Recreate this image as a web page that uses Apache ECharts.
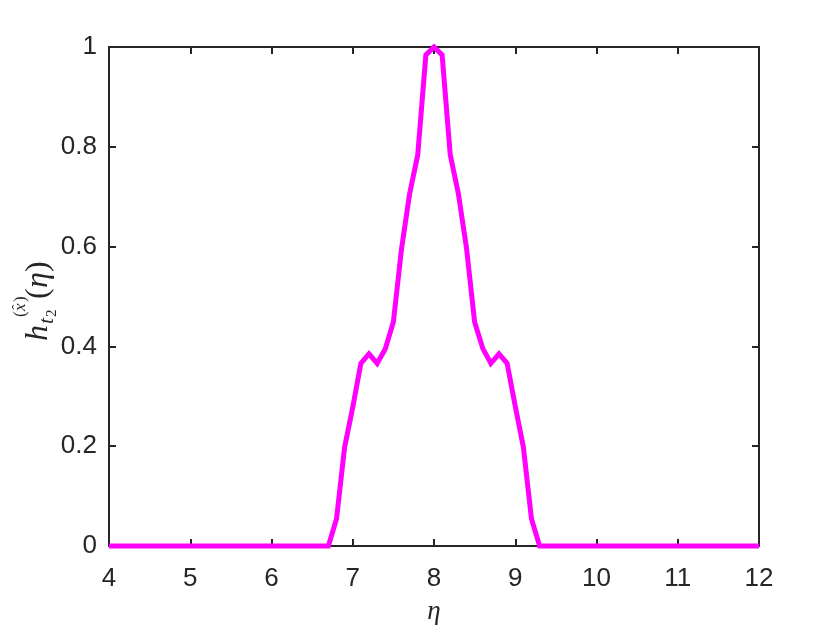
<!DOCTYPE html>
<html>
<head>
<meta charset="utf-8">
<script src="https://cdn.jsdelivr.net/npm/echarts@6/dist/echarts.min.js"></script>
<style>html,body{margin:0;padding:0;background:#fff}#c{width:840px;height:630px}</style>
</head>
<body>
<div id="c"></div>
<script>
// Data
const etaValues = [4, 6.7, 6.8, 6.9, 7.0, 7.1, 7.2, 7.3, 7.4, 7.5, 7.6, 7.7, 7.8, 7.9, 8.0,
                   8.1, 8.2, 8.3, 8.4, 8.5, 8.6, 8.7, 8.8, 8.9, 9.0, 9.1, 9.2, 9.3, 12];
const hValues = [0, 0, 0.054, 0.198, 0.278, 0.366, 0.385, 0.366, 0.395, 0.449, 0.595, 0.706, 0.784, 0.984, 1.0,
                 0.984, 0.784, 0.706, 0.597, 0.449, 0.396, 0.366, 0.385, 0.366, 0.280, 0.198, 0.054, 0, 0];
const xTicks = [4, 5, 6, 7, 8, 9, 10, 11, 12];
const yTicks = [0, 0.2, 0.4, 0.6, 0.8, 1];

const axisColor = '#262626';
const labelFont = 'Liberation Sans, Arial, sans-serif';
const serif = '"Liberation Serif", "DejaVu Serif", serif';

const chart = echarts.init(document.getElementById('c'), null, {renderer: 'canvas'});
const fmt = v => String(+(+v).toFixed(1));

const baseX = {
  type: 'value', min: xTicks[0], max: xTicks[xTicks.length - 1], interval: 1,
  axisLine: {show: true, onZero: false, lineStyle: {color: axisColor, width: 2}},
  axisTick: {show: true, inside: true, length: 7, lineStyle: {color: axisColor, width: 2}},
  splitLine: {show: false}
};
const baseY = {
  type: 'value', min: yTicks[0], max: yTicks[yTicks.length - 1], interval: 0.2,
  axisLine: {show: true, onZero: false, lineStyle: {color: axisColor, width: 2}},
  axisTick: {show: true, inside: true, length: 7, lineStyle: {color: axisColor, width: 2}},
  splitLine: {show: false}
};

function t(text, x, baseline, size, italic) {
  return {type: 'text', x: x, y: baseline + 0.216 * size,
    style: {text: text, font: (italic ? 'italic ' : '') + size + 'px ' + serif, fill: axisColor, textVerticalAlign: 'bottom', textAlign: 'left'}};
}

chart.setOption({
  animation: false,
  backgroundColor: '#ffffff',
  grid: {left: 109, right: 81, top: 47, bottom: 82, containLabel: false},
  xAxis: [
    Object.assign({}, baseX, {
      position: 'bottom',
      axisLabel: {show: true, color: axisColor, fontSize: 26, fontFamily: labelFont, margin: 20, formatter: fmt},
      name: '\u03B7', nameLocation: 'middle', nameGap: 52,
      nameTextStyle: {fontFamily: serif, fontStyle: 'italic', fontSize: 27, color: axisColor}
    }),
    Object.assign({}, baseX, {position: 'top', axisLabel: {show: false}})
  ],
  yAxis: [
    Object.assign({}, baseY, {
      position: 'left',
      axisLabel: {show: true, color: axisColor, fontSize: 26, fontFamily: labelFont, margin: 12, formatter: fmt}
    }),
    Object.assign({}, baseY, {position: 'right', axisLabel: {show: false}})
  ],
  graphic: [{
    type: 'group',
    x: 48, y: 341,
    rotation: Math.PI / 2,
    children: [
      t('h', 0, 0, 32, true),
      t('t', 17, 5, 22, true),
      t('2', 24, 8, 15, false),
      t('(', 24, -23, 17, false),
      t('x', 30, -23, 17, true),
      t('\u02C6', 31.5, -26, 15, false),
      t(')', 39, -23, 17, false),
      t('(', 42, 0, 32, false),
      t('\u03B7', 53, 0, 32, true),
      t(')', 69, 0, 32, false)
    ]
  }],
  series: [{
    type: 'line',
    xAxisIndex: 0, yAxisIndex: 0,
    data: etaValues.map((x, i) => [x, hValues[i]]),
    showSymbol: false, symbol: 'none',
    lineStyle: {color: '#FF00FF', width: 5, join: 'miter'},
    clip: false
  }]
});
</script>
</body>
</html>
